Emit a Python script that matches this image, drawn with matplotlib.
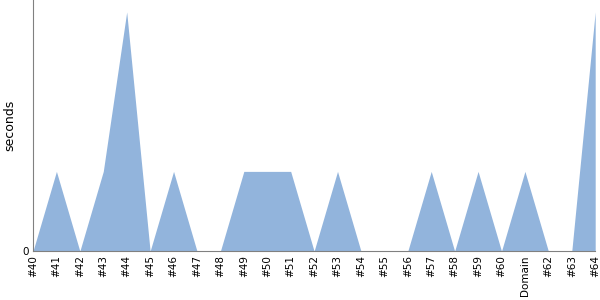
#Area chart of seconds per build

#import libraries
import numpy as np
import matplotlib
matplotlib.use('Agg')
import matplotlib.pyplot as plt

#data
labels = ['#40', '#41', '#42', '#43', '#44', '#45', '#46', '#47', '#48', '#49',
          '#50', '#51', '#52', '#53', '#54', '#55', '#56', '#57', '#58', '#59',
          '#60', 'Domain', '#62', '#63', '#64']
seconds = [0, 1, 0, 1, 3, 0, 1, 0, 0, 1,
           1, 1, 0, 1, 0, 0, 0, 1, 0, 1,
           0, 1, 0, 0, 3]

x = np.arange(len(labels))

fig = plt.figure(figsize=(6, 3), dpi=100)
ax = fig.add_axes([0.055, 0.163, 0.937, 0.837])

#the filled area
ax.fill_between(x, seconds, 0, color='#92b4dc', linewidth=0)

ax.set_xlim(0, len(labels) - 1)
ax.set_ylim(0, 3.15)
ax.set_xticks(x)
ax.set_xticklabels(labels, rotation=90, fontsize=7.5)
ax.set_yticks([0])
ax.set_yticklabels(['0'], fontsize=7.5)
ax.tick_params(length=0, pad=3)
ax.set_ylabel('seconds', fontsize=9)

#only left and bottom gray spines
for side in ['top', 'right']:
    ax.spines[side].set_visible(False)
for side in ['left', 'bottom']:
    ax.spines[side].set_color('#808080')

plt.savefig('out.png', dpi=100)
